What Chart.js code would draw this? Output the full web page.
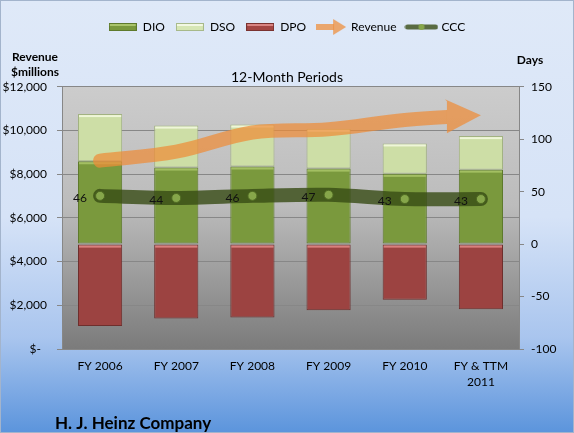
<!DOCTYPE html>
<html>
<head>
<meta charset="utf-8">
<script src="https://cdn.jsdelivr.net/npm/chart.js@4.4.0/dist/chart.umd.min.js"></script>
<style>
  html, body { margin: 0; padding: 0; background: #fff; }
</style>
</head>
<body>
<canvas id="myChart" width="574" height="433"></canvas>
<script>
// values
const periods = ['FY 2006', 'FY 2007', 'FY 2008', 'FY 2009', 'FY 2010', ['FY & TTM', '2011']];
const dio = [79, 73, 74, 72, 67, 71];
const dso = [45, 40, 40, 38, 29, 32];
const dpo = [-78, -71, -70, -63, -53, -62];
const ccc = [46, 44, 46, 47, 43, 43];
const revenue = [8620, 9030, 9910, 10060, 10480, 10700];

// axis ranges
const revenueMin = 0, revenueMax = 12000, revenueStep = 2000;
const daysMin = -100, daysMax = 150, daysStep = 50;

const revColor = 'rgba(238,140,55,0.72)';
const cccColor = 'rgba(55,75,20,0.8)';

Chart.defaults.font.family = 'Lato';
Chart.defaults.font.size = 12;
Chart.defaults.color = '#000';

// small canvases used as legend symbols
function makeIcon(w, h, paint) {
  const c = document.createElement('canvas');
  c.width = w; c.height = h;
  paint(c.getContext('2d'));
  return c;
}
function boxIcon(fill, top, edge) {
  return makeIcon(28, 8, ctx => {
    ctx.fillStyle = fill; ctx.fillRect(0, 0, 28, 8);
    ctx.fillStyle = top; ctx.fillRect(1, 1, 26, 2);
    ctx.strokeStyle = edge; ctx.lineWidth = 1; ctx.strokeRect(0.5, 0.5, 27, 7);
  });
}
const icons = {
  DIO: boxIcon('#7a993d', '#a9c46a', '#5e7a2c'),
  DSO: boxIcon('#d6e6b4', '#f2f8e2', '#a7b98a'),
  DPO: boxIcon('#a44644', '#d98482', '#7a3230'),
  Revenue: makeIcon(30, 16, ctx => {
    ctx.fillStyle = revColor;
    ctx.fillRect(0, 5, 18, 6);
    ctx.beginPath(); ctx.moveTo(17, 0); ctx.lineTo(30, 8); ctx.lineTo(17, 16); ctx.closePath(); ctx.fill();
  }),
  CCC: makeIcon(34, 10, ctx => {
    ctx.strokeStyle = cccColor; ctx.lineWidth = 5; ctx.lineCap = 'round';
    ctx.beginPath(); ctx.moveTo(3, 5); ctx.lineTo(31, 5); ctx.stroke();
    ctx.fillStyle = '#86a64a';
    ctx.beginPath(); ctx.arc(17, 5, 3, 0, Math.PI * 2); ctx.fill();
  })
};

const bevel = { DIO: '#a3bf62', DSO: '#eef6d8', DPO: '#d8807e' };

// backgrounds: light blue gradient for the page, grey gradient in the plot
const bgPlugin = {
  id: 'bg',
  beforeDraw(chart) {
    const {ctx, width, height, chartArea: a} = chart;
    ctx.save();
    let g = ctx.createLinearGradient(0, 0, 0, height);
    g.addColorStop(0, '#dfe9f8');
    g.addColorStop(0.5, '#d6e3f7');
    g.addColorStop(0.78, '#a9c5ee');
    g.addColorStop(1, '#5b94dc');
    ctx.fillStyle = g;
    ctx.fillRect(0, 0, width, height);
    g = ctx.createLinearGradient(0, a.top, 0, a.bottom);
    g.addColorStop(0, '#cccccc');
    g.addColorStop(0.45, '#bcbcbc');
    g.addColorStop(1, '#7b7b7b');
    ctx.fillStyle = g;
    ctx.fillRect(a.left, a.top, a.width, a.height);
    ctx.strokeStyle = '#a3b4cc';
    ctx.strokeRect(0.5, 0.5, width - 1, height - 1);
    ctx.restore();
  }
};

// light strip on top of each bar segment, arrow head for revenue
const decoPlugin = {
  id: 'deco',
  beforeDatasetDraw(chart, args) {
    const ds = chart.data.datasets[args.index];
    if (ds.label !== 'Revenue') return;
    const pts = args.meta.data;
    const tip = pts[pts.length - 1];
    const ctx = chart.ctx;
    ctx.save();
    ctx.beginPath();
    ctx.rect(0, 0, tip.x - 34, chart.height);
    ctx.clip();
  },
  afterDatasetDraw(chart, args) {
    const ds = chart.data.datasets[args.index];
    const ctx = chart.ctx;
    if (ds.label === 'Revenue') {
      ctx.restore();
      const pts = args.meta.data;
      const tip = pts[pts.length - 1];
      ctx.save();
      ctx.fillStyle = revColor;
      ctx.beginPath();
      ctx.moveTo(tip.x - 36, tip.y - 16);
      ctx.lineTo(tip.x, tip.y);
      ctx.lineTo(tip.x - 34, tip.y + 18);
      ctx.lineTo(tip.x - 34, tip.y - 14);
      ctx.closePath();
      ctx.fill();
      ctx.restore();
      return;
    }
    if (args.meta.type !== 'bar') return;
    ctx.save();
    ctx.fillStyle = bevel[ds.label];
    args.meta.data.forEach(el => {
      const p = el.getProps(['x', 'y', 'base', 'width'], true);
      const top = Math.min(p.y, p.base);
      ctx.fillRect(p.x - p.width / 2 + 1, top + 1, p.width - 2, 2);
    });
    ctx.restore();
  },
  afterDatasetsDraw(chart) {
    const idx = chart.data.datasets.findIndex(d => d.label === 'CCC');
    const meta = chart.getDatasetMeta(idx);
    const ctx = chart.ctx;
    ctx.save();
    ctx.font = '12px Lato';
    ctx.fillStyle = '#111';
    ctx.textAlign = 'center';
    ctx.textBaseline = 'middle';
    meta.data.forEach((pt, i) => ctx.fillText(String(ccc[i]), pt.x - 20, pt.y + 2));
    ctx.restore();
  },
  afterDraw(chart) {
    const ctx = chart.ctx;
    ctx.save();
    ctx.fillStyle = '#000';
    ctx.textBaseline = 'middle';
    ctx.textAlign = 'center';
    ctx.font = 'bold 12px Lato';
    ctx.fillText('Revenue', 35, 57);
    ctx.fillText('$millions', 35, 72);
    ctx.fillText('Days', 530, 60);
    ctx.textAlign = 'left';
    ctx.font = 'bold 17px Lato';
    ctx.fillText('H. J. Heinz Company', 55, 424);
    ctx.restore();
  }
};

const data = {
  labels: periods,
  datasets: [
    {
      type: 'line', label: 'Revenue', data: revenue, yAxisID: 'y',
      borderColor: revColor, borderWidth: 14, borderCapStyle: 'round', borderJoinStyle: 'round',
      tension: 0.35, pointRadius: 0, fill: false, order: 0
    },
    {
      type: 'line', label: 'CCC', data: ccc, yAxisID: 'y1', stack: 'ccc',
      borderColor: cccColor, borderWidth: 14, borderCapStyle: 'round', borderJoinStyle: 'round',
      tension: 0.3, pointRadius: 4.5, pointBackgroundColor: '#86a64a',
      pointBorderColor: '#4f6a22', pointBorderWidth: 1, fill: false, order: 0
    },
    {
      label: 'DIO', data: dio, yAxisID: 'y1', stack: 'days',
      backgroundColor: '#7a993d', borderColor: '#5e7a2c', borderWidth: 1, borderSkipped: false, order: 2
    },
    {
      label: 'DSO', data: dso, yAxisID: 'y1', stack: 'days',
      backgroundColor: '#cddea6', borderColor: '#a2b282', borderWidth: 1, borderSkipped: false, order: 2
    },
    {
      label: 'DPO', data: dpo, yAxisID: 'y1', stack: 'days',
      backgroundColor: '#9c4341', borderColor: '#6e2f2d', borderWidth: 1, borderSkipped: false, order: 2
    }
  ]
};

const config = {
  type: 'bar',
  data,
  options: {
    responsive: false,
    animation: false,
    devicePixelRatio: 1,
    datasets: { bar: { barPercentage: 0.58, categoryPercentage: 1 } },
    layout: { padding: { top: 10, left: 0, right: 0, bottom: 0 } },
    plugins: {
      tooltip: { enabled: false },
      legend: {
        position: 'top',
        labels: {
          usePointStyle: true,
          pointStyleWidth: 28,
          padding: 11,
          font: { size: 12 },
          generateLabels: () => ['DIO', 'DSO', 'DPO', 'Revenue', 'CCC'].map(name => ({
            text: name, pointStyle: icons[name], fillStyle: 'rgba(0,0,0,0)',
            strokeStyle: 'rgba(0,0,0,0)', lineWidth: 0, hidden: false, fontColor: '#000'
          }))
        }
      },
      title: {
        display: true,
        text: '12-Month Periods',
        weight: 500,
        color: '#000',
        font: { size: 14, weight: 'normal', lineHeight: 1.2 },
        padding: { top: 26, bottom: 1 }
      }
    },
    scales: {
      x: {
        stacked: true,
        grid: { display: false, drawTicks: false },
        border: { display: false },
        ticks: { padding: 9, font: { size: 12, lineHeight: 1.34 }, maxRotation: 0 },
        afterFit: s => { s.height = 84; }
      },
      y: {
        position: 'left',
        min: revenueMin, max: revenueMax,
        ticks: {
          stepSize: revenueStep, padding: 10,
          callback: v => v === 0 ? '$-  ' : '$' + v.toLocaleString('en-US')
        },
        grid: { color: '#878787', tickLength: 5 },
        border: { color: '#878787' },
        afterFit: s => { s.width = 62; }
      },
      y1: {
        position: 'right',
        stacked: true,
        min: daysMin, max: daysMax,
        ticks: { stepSize: daysStep, padding: 7 },
        grid: { drawOnChartArea: false, color: '#878787', tickLength: 5 },
        border: { color: '#878787' },
        afterFit: s => { s.width = 55; }
      }
    }
  },
  plugins: [bgPlugin, decoPlugin]
};

const myChart = new Chart(document.getElementById('myChart'), config);
</script>
</body>
</html>
